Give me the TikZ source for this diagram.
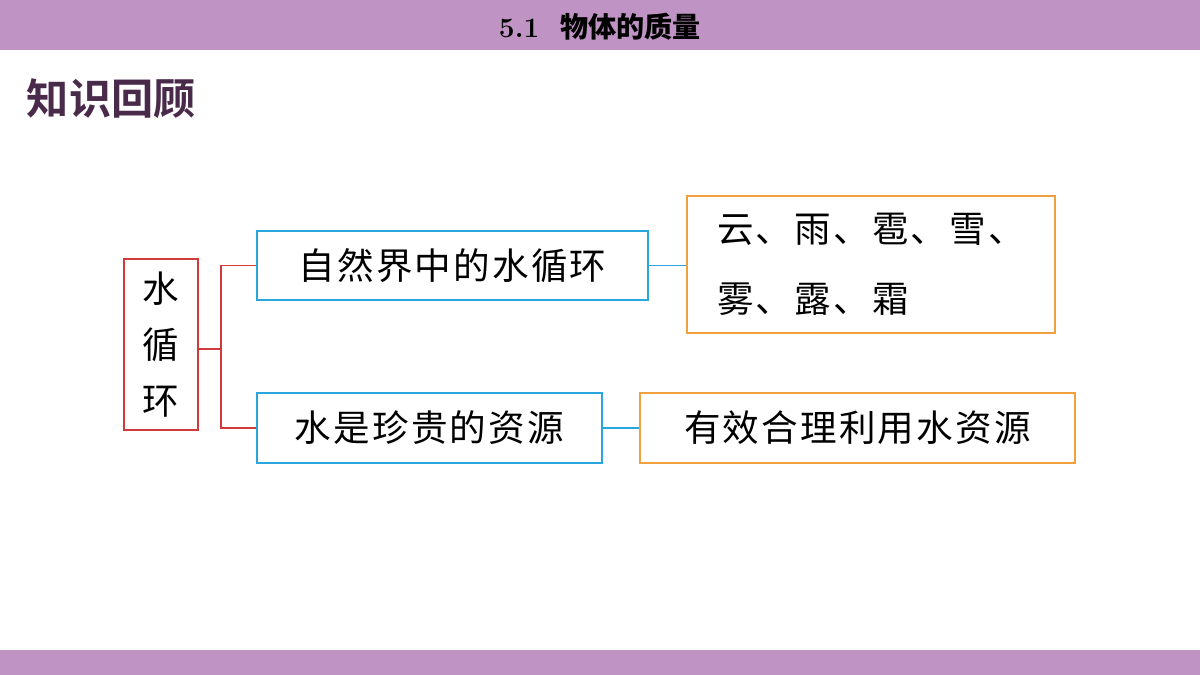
\documentclass[tikz,border=0pt]{standalone}
\usepackage{fontspec}
\newfontfamily\cjk[LetterSpace=6]{Noto Sans CJK SC}
\newfontfamily\cjkb{Noto Sans CJK SC Bold}
\definecolor{bar}{HTML}{BF93C3}
\definecolor{redc}{HTML}{D03A3A}
\definecolor{bluec}{HTML}{2AA6DE}
\definecolor{orc}{HTML}{F0A03C}
\definecolor{ttl}{HTML}{4A2A4A}
\begin{document}
\begin{tikzpicture}[x=0.025cm,y=-0.025cm,
  bx/.style={draw=#1,line width=1.3pt,inner sep=0pt,font=\cjk\fontsize{26}{40}\selectfont,text=black,align=center}]
\useasboundingbox (0,0) rectangle (1200,675);
\fill[white] (0,0) rectangle (1200,675);
\fill[bar] (0,0) rectangle (1200,50);
\fill[bar] (0,650) rectangle (1200,675);
\node (title) at (600,27) {\bfseries\fontsize{20}{24}\selectfont 5.1\ \ {\cjkb 物体的质量}};
\node[anchor=west,text=ttl] (kh) at (22,99) {\cjkb\fontsize{30}{34}\selectfont 知识回顾};
\node[bx=redc,minimum width=74*0.025cm,minimum height=171*0.025cm] (w) at (161,344.5)
  {水\\循\\环};
\node[bx=bluec,minimum width=391*0.025cm,minimum height=69*0.025cm] (b1) at (452.5,265.5) {自然界中的水循环};
\node[bx=bluec,minimum width=345*0.025cm,minimum height=70*0.025cm] (b2) at (429.5,428) {水是珍贵的资源};
\node[bx=orc,minimum width=368*0.025cm,minimum height=137*0.025cm,align=left,font=\cjk\fontsize{26}{50}\selectfont] (o1) at (871,264.5) {云、雨、雹、雪、\\雾、露、霜\hspace{3.9cm}};
\node[bx=orc,minimum width=435*0.025cm,minimum height=70*0.025cm] (o2) at (857.5,428) {有效合理利用水资源};
\coordinate (j) at (221,349);
\draw[redc,line width=1.3pt] (w.east |- j) -- (j);
\draw[redc,line width=1.3pt] (b1.west) -| (j) |- (b2.west);
\draw[bluec,line width=1.3pt] (b1.east) -- (b1.east -| o1.west);
\draw[bluec,line width=1.3pt] (b2.east) -- (o2.west);
\end{tikzpicture}
\end{document}
